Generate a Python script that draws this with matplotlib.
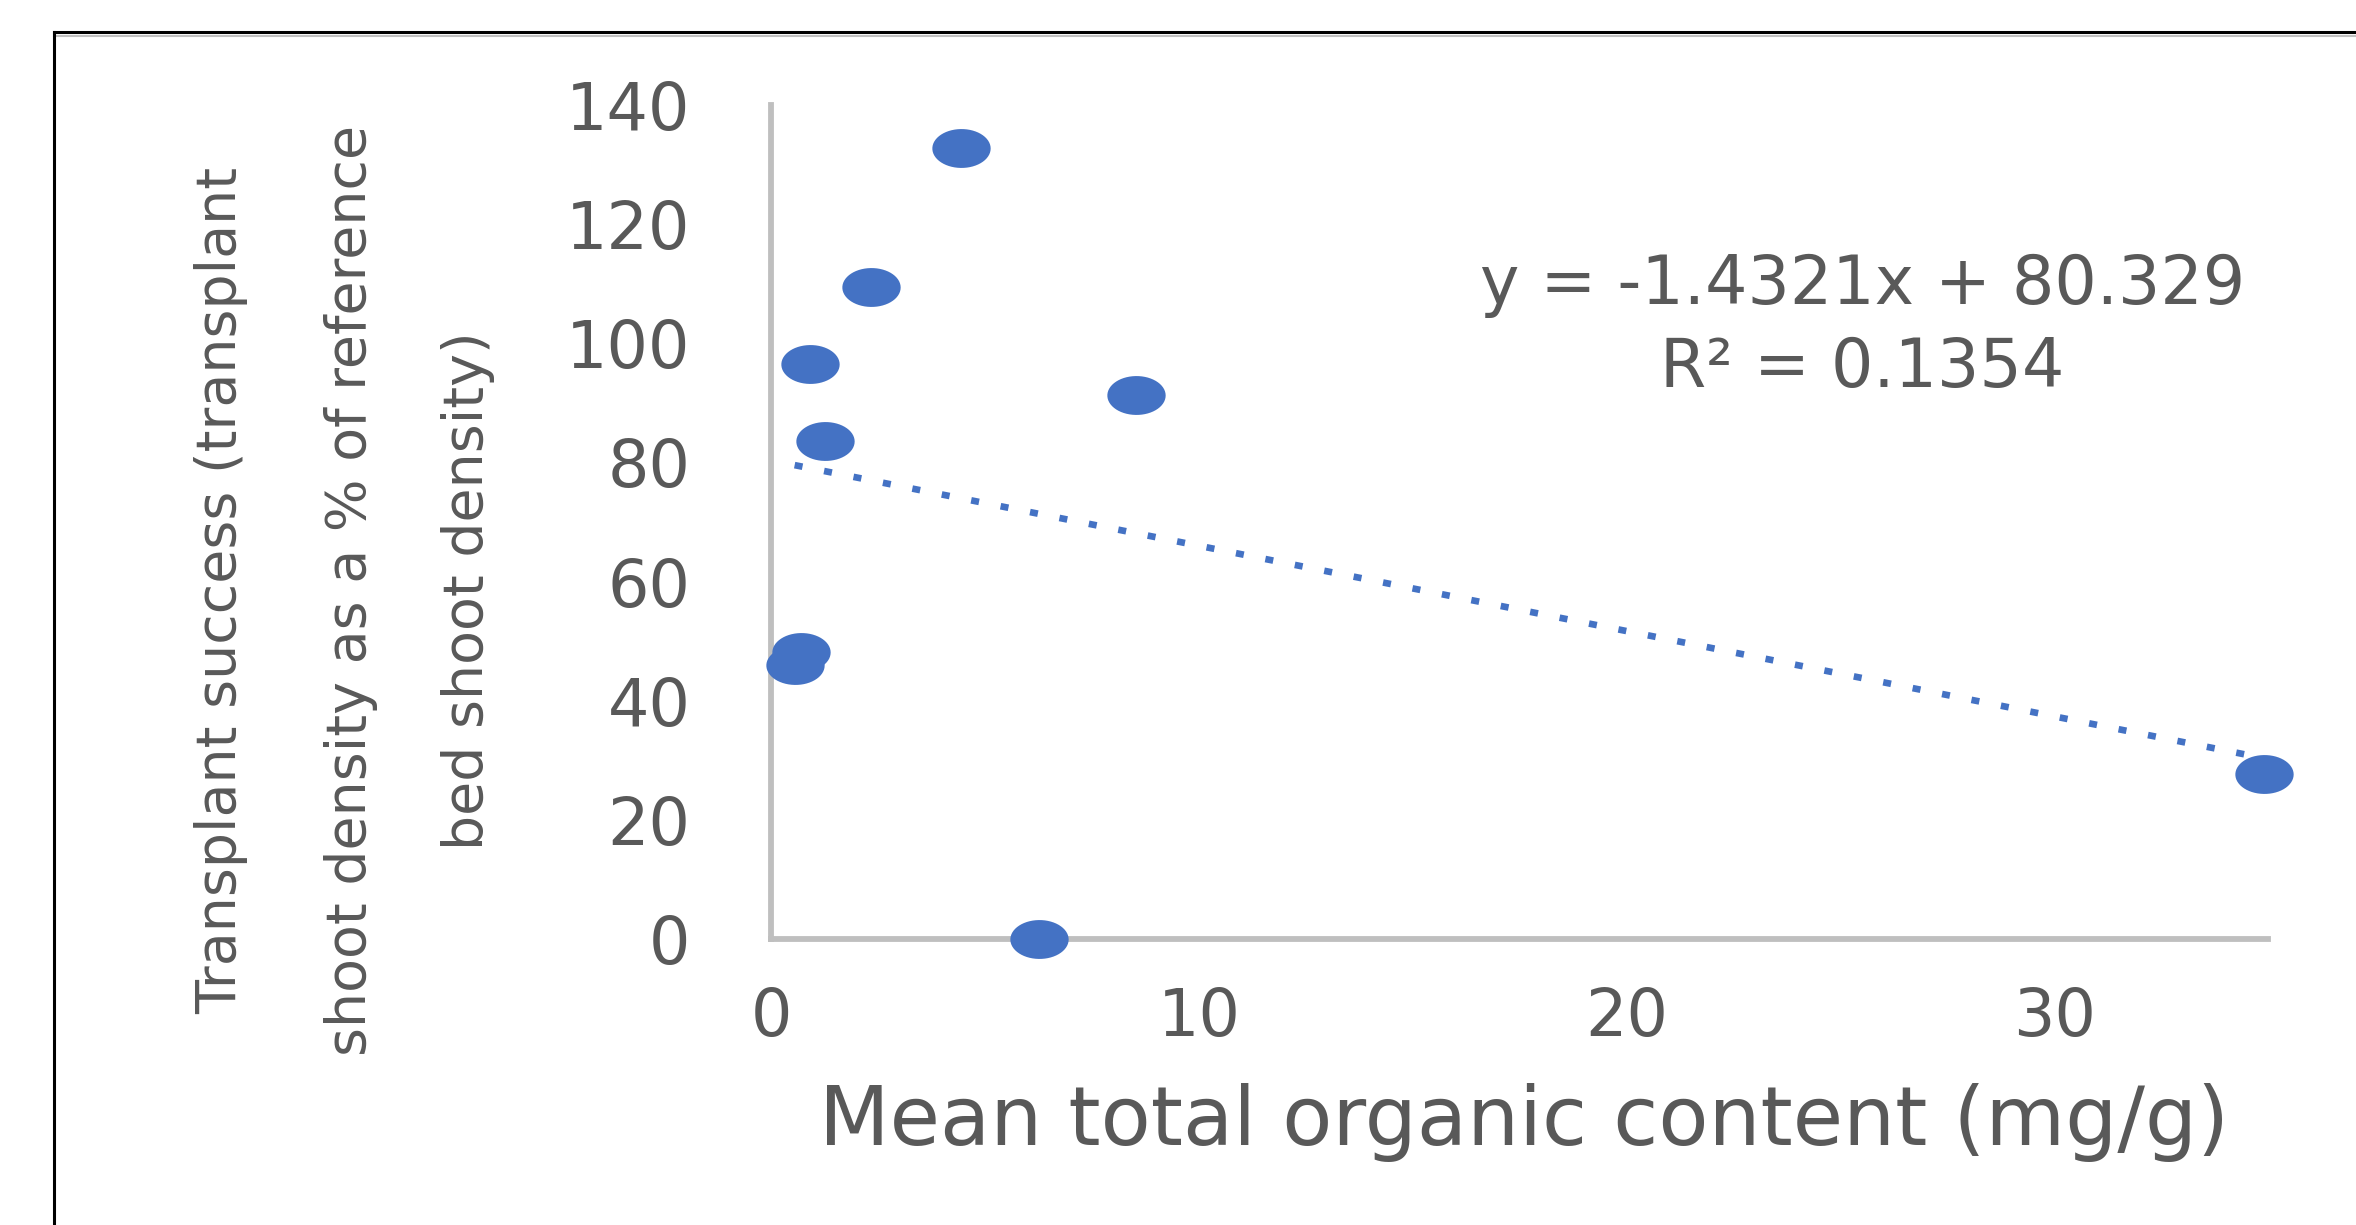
import numpy as np
import matplotlib
matplotlib.use("Agg")
import matplotlib.pyplot as plt
from matplotlib.path import Path
from matplotlib.lines import Line2D

# data
organic = [4.45, 2.33, 0.90, 8.54, 1.26, 0.70, 0.55, 6.27, 34.9]
success = [132.7, 109.4, 96.5, 91.3, 83.6, 48.2, 46.0, 0.0, 27.7]

# trendline as printed on the chart
slope = -1.4321
intercept = 80.329
eq_text = "y = -1.4321x + 80.329"
r2_text = "R² = 0.1354"

x_ticks = [0, 10, 20, 30]
y_ticks = [0, 20, 40, 60, 80, 100, 120, 140]
x_label = "Mean total organic content (mg/g)"
y_label_lines = ["Transplant success (transplant",
                 "shoot density as a % of reference",
                 "bed shoot density)"]

blue = "#4472C4"
grey_txt = "#595959"
grey_axis = "#BFBFBF"

plt.rcParams['font.family'] = ['DejaVu Sans']

fig = plt.figure(figsize=(23.56, 12.25), dpi=100)
ax = fig.add_axes([0.3273, 0.2335, 0.6354, 0.6808])

# wide ellipse marker (the picture is stretched sideways)
t = np.linspace(0, 2 * np.pi, 60)
ellipse = Path(np.column_stack([1.5 * np.cos(t), np.sin(t)]), closed=True)

xs = np.array([min(organic), max(organic)])
ax.plot(xs, slope * xs + intercept, color=blue, lw=4.8,
        linestyle=(0, (1.2, 3.3)), solid_capstyle='butt', zorder=2)
ax.plot(organic, success, linestyle='none', marker=ellipse, markersize=42,
        color=blue, markeredgewidth=0, zorder=3, clip_on=False)

ax.set_xlim(0, 35)
ax.set_ylim(0, 140)
ax.set_xticks(x_ticks)
ax.set_yticks(y_ticks)
ax.tick_params(length=0, labelsize=47, colors=grey_txt)
ax.tick_params(axis='x', pad=34)
ax.tick_params(axis='y', pad=58)
for s in ['top', 'right']:
    ax.spines[s].set_visible(False)
for s in ['left', 'bottom']:
    ax.spines[s].set_color(grey_axis)
    ax.spines[s].set_linewidth(4.2)

ax.text(0.729, 0.734, eq_text + "\n" + r2_text, transform=ax.transAxes,
        ha='center', va='center', fontsize=48, color=grey_txt,
        linespacing=1.33)

fig.text(0.647, 0.084, x_label, ha='center', va='center',
         fontsize=59, color=grey_txt)

for xpos, line in zip([0.0938, 0.1490, 0.1987], y_label_lines):
    fig.text(xpos, 0.518, line, rotation=90, ha='center', va='center',
             fontsize=40, color=grey_txt)

# outer chart frame (only top and left edges are inside the picture)
fig.add_artist(Line2D([0.0229, 1.0], [0.9739, 0.9739], color='black', lw=2.2,
                      transform=fig.transFigure))
fig.add_artist(Line2D([0.0229, 1.0], [0.9705, 0.9705], color='#C0C0C0', lw=1.5,
                      transform=fig.transFigure))
fig.add_artist(Line2D([0.0229, 0.0229], [0.0, 0.9739], color='black', lw=2.2,
                      transform=fig.transFigure))

fig.savefig("out.png", dpi=100, facecolor='white')
